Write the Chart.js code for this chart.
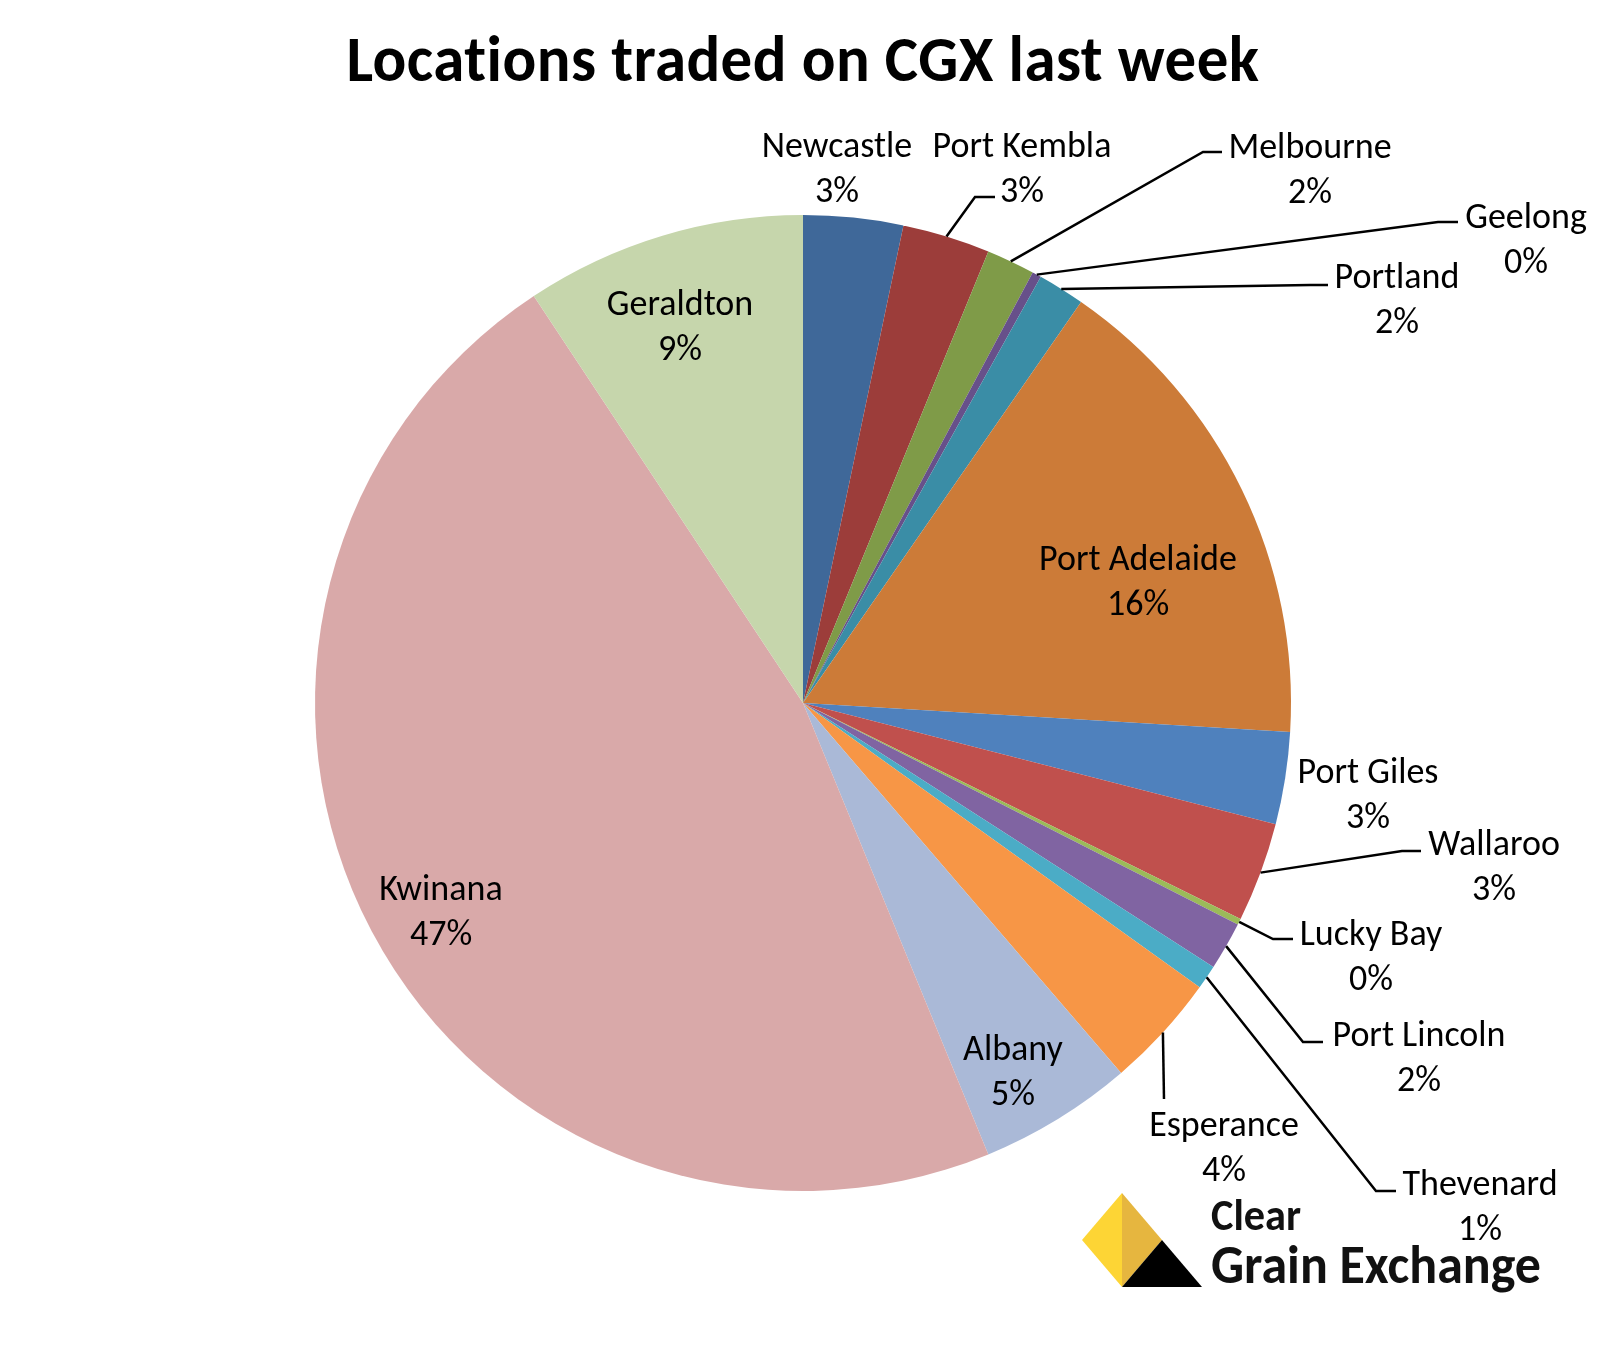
<!DOCTYPE html>
<html>
<head>
<meta charset="utf-8">
<script src="https://cdn.jsdelivr.net/npm/chart.js@4.4.1/dist/chart.umd.min.js"></script>
<style>
  html, body { margin: 0; padding: 0; background: #fff; }
  canvas { display: block; }
</style>
</head>
<body>
<canvas id="c" width="1608" height="1351"></canvas>
<script>
// share of volume by location, clockwise from 12 o'clock
const CATEGORIES = ['Newcastle', 'Port Kembla', 'Melbourne', 'Geelong', 'Portland', 'Port Adelaide',
  'Port Giles', 'Wallaroo', 'Lucky Bay', 'Port Lincoln', 'Thevenard', 'Esperance', 'Albany',
  'Kwinana', 'Geraldton'];
const VALUES = [3.3, 2.9, 1.6, 0.3, 1.55, 16.3, 3.05, 3.3, 0.2, 1.6, 0.8, 3.8, 5.1, 46.9, 9.3];
const COLORS = ['#3F6899', '#9C3D3A', '#7F9B48', '#67508A', '#3A8DA6', '#CC7B38',
  '#4F81BD', '#C0504D', '#9BBB59', '#8064A2', '#4BACC6', '#F79646', '#AAB9D7',
  '#D9A9A9', '#C6D6AC'];
const TITLE = 'Locations traded on CGX last week';

const FONT = 'Carlito, Calibri, Lato, "Open Sans", sans-serif';
const LINE_GAP = 45;

// label text centre (first line) and optional leader elbow/end
const LABEL_POS = {
  'Newcastle':     { x: 837,  y: 144 },
  'Port Kembla':   { x: 1022, y: 144, elbow: [975, 197],  end: [995, 197] },
  'Melbourne':     { x: 1310, y: 145, elbow: [1203, 152], end: [1222, 152] },
  'Geelong':       { x: 1526, y: 215, elbow: [1438, 222], end: [1458, 222] },
  'Portland':      { x: 1397, y: 275, elbow: [1310, 285], end: [1328, 285] },
  'Port Adelaide': { x: 1138, y: 557 },
  'Port Giles':    { x: 1368, y: 770 },
  'Wallaroo':      { x: 1494, y: 842, elbow: [1402, 851], end: [1421, 851] },
  'Lucky Bay':     { x: 1371, y: 932, elbow: [1273, 939], end: [1293, 939] },
  'Port Lincoln':  { x: 1419, y: 1033, elbow: [1303, 1042], end: [1323, 1042] },
  'Thevenard':     { x: 1480, y: 1182, elbow: [1376, 1191], end: [1396, 1191] },
  'Esperance':     { x: 1224, y: 1123, elbow: [1164, 1099], end: [1164, 1099] },
  'Albany':        { x: 1013, y: 1047 },
  'Kwinana':       { x: 441,  y: 887 },
  'Geraldton':     { x: 680,  y: 302 }
};

const total = VALUES.reduce((a, b) => a + b, 0);

const labelsPlugin = {
  id: 'cgxLabels',
  afterDraw(chart) {
    const ctx = chart.ctx;
    const arcs = chart.getDatasetMeta(0).data;
    ctx.save();

    // title (letter spacing keeps the "ti" from turning into a ligature)
    ctx.fillStyle = '#000';
    ctx.textAlign = 'center';
    ctx.textBaseline = 'alphabetic';
    ctx.font = 'bold 64px ' + FONT;
    if ('letterSpacing' in ctx) ctx.letterSpacing = '0.5px';
    ctx.fillText(TITLE, 803, 81, 913);
    if ('letterSpacing' in ctx) ctx.letterSpacing = '0px';

    // leaders
    ctx.strokeStyle = '#000';
    ctx.lineWidth = 2.5;
    arcs.forEach((arc, i) => {
      const pos = LABEL_POS[CATEGORIES[i]];
      if (!pos || !pos.elbow) return;
      const mid = (arc.startAngle + arc.endAngle) / 2;
      const r = arc.outerRadius;
      ctx.beginPath();
      ctx.moveTo(arc.x + Math.cos(mid) * r, arc.y + Math.sin(mid) * r);
      ctx.lineTo(pos.elbow[0], pos.elbow[1]);
      ctx.lineTo(pos.end[0], pos.end[1]);
      ctx.stroke();
    });

    // data labels
    ctx.font = '36px ' + FONT;
    ctx.textAlign = 'center';
    CATEGORIES.forEach((name, i) => {
      const pos = LABEL_POS[name];
      const pct = Math.round(VALUES[i] / total * 100) + '%';
      ctx.fillText(name, pos.x, pos.y + 13);
      ctx.fillText(pct, pos.x, pos.y + LINE_GAP + 13);
    });

    // Clear Grain Exchange logo
    ctx.fillStyle = '#FDD535';
    ctx.beginPath();
    ctx.moveTo(1122, 1193); ctx.lineTo(1082, 1240); ctx.lineTo(1122, 1287); ctx.closePath();
    ctx.fill();
    ctx.fillStyle = '#E6B63F';
    ctx.beginPath();
    ctx.moveTo(1122, 1193); ctx.lineTo(1162, 1240); ctx.lineTo(1122, 1287); ctx.closePath();
    ctx.fill();
    ctx.fillStyle = '#000';
    ctx.beginPath();
    ctx.moveTo(1122, 1287); ctx.lineTo(1162, 1240); ctx.lineTo(1202, 1287); ctx.closePath();
    ctx.fill();

    ctx.textAlign = 'left';
    ctx.fillStyle = '#111';
    ctx.font = '900 45px ' + FONT;
    ctx.fillText('Clear', 1211, 1230, 90);
    ctx.font = '900 55px ' + FONT;
    ctx.fillText('Grain Exchange', 1211, 1283, 330);

    ctx.restore();
  }
};

const chart = new Chart(document.getElementById('c'), {
  type: 'pie',
  data: {
    labels: CATEGORIES,
    datasets: [{
      data: VALUES,
      backgroundColor: COLORS,
      borderWidth: 0,
      hoverOffset: 0
    }]
  },
  options: {
    responsive: false,
    devicePixelRatio: 1,
    animation: false,
    radius: 488,
    layout: { padding: { left: 315, right: 317, top: 215, bottom: 160 } },
    plugins: {
      legend: { display: false },
      tooltip: { enabled: false }
    }
  },
  plugins: [labelsPlugin]
});

if (document.fonts && document.fonts.ready) {
  document.fonts.ready.then(() => chart.draw());
}
</script>
</body>
</html>
